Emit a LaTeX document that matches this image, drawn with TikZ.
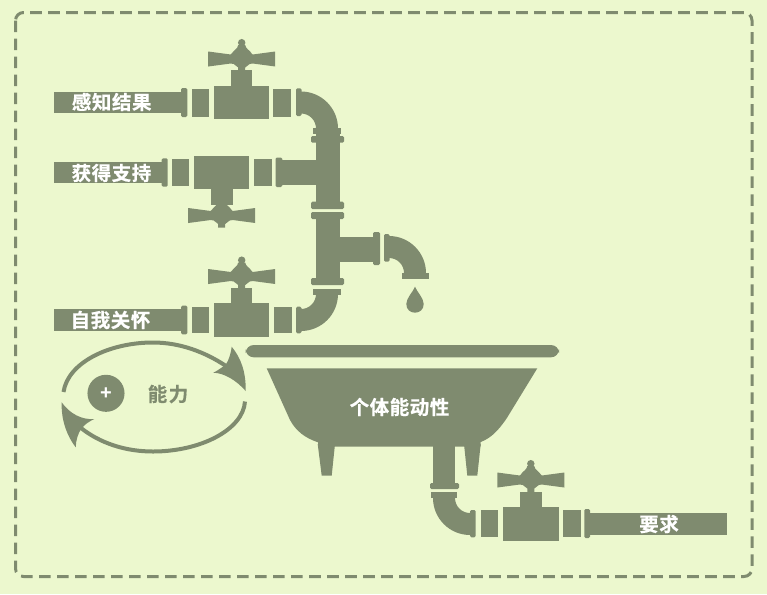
\documentclass[tikz,border=0pt]{standalone}
\usepackage{fontspec}
\newfontfamily\cjkb[LetterSpace=3,BoldFont={Noto Sans CJK SC Bold},BoldFeatures={FakeBold=0.6}]{Noto Sans CJK SC}
\newfontfamily\cjkc[LetterSpace=8,BoldFont={Noto Sans CJK SC Bold},BoldFeatures={FakeBold=0.6}]{Noto Sans CJK SC}
\newfontfamily\plusf{Liberation Sans Bold}
\definecolor{bgc}{HTML}{ECF8CE}
\definecolor{pipec}{HTML}{7F8B6F}
\tikzset{
  pipe/.style={fill=pipec,draw=none},
  lab/.style={font=\cjkb\bfseries\fontsize{14.6pt}{16pt}\selectfont,text=white,inner sep=0pt},
  labdark/.style={inner sep=0pt,text=pipec,font=\cjkc\bfseries\fontsize{14.6pt}{16pt}\selectfont},
  cyc/.style={draw=pipec,line width=3pt},
  handle/.pic={
    \fill[pipe] (-33.5,-7.5) -- (-11,-4.5) -- (-10,-5.5) .. controls (-8,-9) and (-4,-10) .. (-3.5,-14) -- (3.5,-14)
      .. controls (4,-10) and (8,-9) .. (10,-5.5) -- (11,-4.5) -- (33.5,-7.5) -- (33.5,7.5) -- (11,4.5)
      -- (8,5) -- (3.5,8.5) -- (3.5,12) -- (-3.5,12) -- (-3.5,8.5) -- (-8,5)
      -- (-11,4.5) -- (-33.5,7.5) -- cycle;
    \fill[pipe] (0,-16.3) circle[radius=2.8pt];
  }
}
\begin{document}
\begin{tikzpicture}[x=0.75pt,y=-0.75pt]
\useasboundingbox (0,0) rectangle (767,594);
\fill[bgc] (0,0) rectangle (767,594);
\draw[pipec,line width=2.25pt,dash pattern=on 8.8pt off 4.7pt,rounded corners=6pt] (15.5,12.5) rectangle (752,576.5);

% top line
\fill[pipe] (54,91.7) rectangle (182,113);
\fill[pipe,rounded corners=1pt] (181,88) rectangle (187.3,117);
\fill[pipe] (192.3,89.3) rectangle (209,116.7);
\fill[pipe] (214,85.7) rectangle (269.3,119.3);
\fill[pipe] (230.7,70) rectangle (252.3,86);
\pic at (241.7,59) {handle};
\fill[pipe] (273.3,89.3) rectangle (290.7,116.7);
\fill[pipe,rounded corners=1pt] (296,88.3) rectangle (301.5,116);
\fill[pipe] (301,91.5) .. controls (321.4,91.5) and (338,108.1) .. (338,128.5) -- (316,128.5) .. controls (316,120.2) and (309.3,113.5) .. (301,113.5) -- cycle;
\fill[pipe] (313,128) rectangle (340.7,134);
\fill[pipe,rounded corners=1pt] (311,136) rectangle (344,142.7);
\fill[pipe] (316,134) rectangle (340,202);
\fill[pipe,rounded corners=1pt] (311,201.7) rectangle (344,209);

% second line
\fill[pipe] (54,162.3) rectangle (162,183.3);
\fill[pipe,rounded corners=1pt] (161.7,158.3) rectangle (167.7,186.7);
\fill[pipe] (172.3,159) rectangle (189.3,185.7);
\fill[pipe] (194.3,155.7) rectangle (249.3,189);
\fill[pipe] (210.7,189) rectangle (232.7,204.5);
\begin{scope}[shift={(221.7,215.5)},yscale=-1]
\pic at (0,0) {handle};
\end{scope}
\fill[pipe] (254.3,159) rectangle (271.7,185.7);
\fill[pipe,rounded corners=1pt] (275.5,157.5) rectangle (282.3,187);
\fill[pipe] (282,160) rectangle (317,185);

% lower vertical with branch
\fill[pipe,rounded corners=1pt] (311,212) rectangle (344,219);
\fill[pipe] (316,218) rectangle (340,279);
\fill[pipe,rounded corners=1pt] (311,278) rectangle (344,285);
\fill[pipe] (339,236.5) rectangle (374,261.5);
\fill[pipe,rounded corners=1pt] (373,232) rectangle (380,265);

% spout
\fill[pipe,rounded corners=1pt] (384,234) rectangle (389.5,261.7);
\fill[pipe] (389,236) .. controls (409.4,236) and (426,252.6) .. (426,273) -- (404,273) .. controls (404,264.7) and (397.3,258) .. (389,258) -- cycle;
\fill[pipe] (402.3,272.7) rectangle (429,279.3);
\fill[pipe] (415,286.7) .. controls (417,292) and (423.7,298) .. (423.7,304) .. controls (423.7,315.6) and (406.3,315.6) .. (406.3,304) .. controls (406.3,298) and (413,292) .. (415,286.7) -- cycle;

% third line
\fill[pipe] (54,309) rectangle (182,331);
\fill[pipe,rounded corners=1pt] (181,305.7) rectangle (187.3,334.3);
\fill[pipe] (192.3,306.7) rectangle (209,333.3);
\fill[pipe] (214,303.3) rectangle (269.3,336.7);
\fill[pipe] (230.7,288) rectangle (252.3,304);
\pic at (241.7,276.5) {handle};
\fill[pipe] (274.3,306.7) rectangle (291.7,333.3);
\fill[pipe,rounded corners=1pt] (296,306.7) rectangle (301.5,333.3);
\fill[pipe] (301,331) .. controls (321.4,331) and (338,314.4) .. (338,294) -- (316,294) .. controls (316,302.3) and (309.3,309) .. (301,309) -- cycle;
\fill[pipe] (313,289) rectangle (340.7,294.5);

% bath
\fill[pipe,rounded corners=6pt] (245.7,345) rectangle (559,357.3);
\fill[pipe] (266.7,368.3) -- (537.3,368.3) -- (506.7,418.3) .. controls (498,431) and (491,438) .. (480.7,442) -- (480.7,446.7) -- (318,446.7) -- (318,442.3) .. controls (305,438) and (296,431) .. (290,420) -- cycle;
\fill[pipe] (317.7,444) -- (335,444) -- (331.7,475.7) -- (321.7,475.7) -- cycle;
\fill[pipe] (464,444) -- (480.7,444) -- (477.3,475.7) -- (467.3,475.7) -- cycle;

% drain line
\fill[pipe] (433.3,446) rectangle (455,484);
\fill[pipe,rounded corners=1pt] (430,483) rectangle (459,489);
\fill[pipe] (430.7,492.3) rectangle (457.3,497.5);
\fill[pipe] (433,497) -- (433,498) .. controls (433,518.4) and (449.6,535) .. (470,535) -- (470,513) .. controls (461.7,513) and (455,506.3) .. (455,498) -- (455,497) -- cycle;
\fill[pipe,rounded corners=1pt] (470,510) rectangle (475.7,537.3);
\fill[pipe] (480.7,510) rectangle (498.3,537.3);
\fill[pipe] (502.7,506.7) rectangle (559,540.7);
\fill[pipe] (520,491.7) rectangle (541.7,507);
\pic at (530.8,480) {handle};
\fill[pipe] (563.3,510) rectangle (580.7,537.3);
\fill[pipe,rounded corners=1pt] (584.3,509) rectangle (590,538);
\fill[pipe] (589.5,512.7) rectangle (727,535);

% cycle
\draw[cyc] (63.5,392) .. controls (68,362) and (110,342.5) .. (153,342.5) .. controls (180,342.5) and (205,352) .. (226,366);
\fill[pipe] (245.7,391) .. controls (246,372) and (241,358) .. (231.7,346.7) .. controls (231,353) and (229,360) .. (225.5,365) .. controls (221,368) and (217,371) .. (213.3,372.7) .. controls (224,373) and (236,380) .. (245.7,391) -- cycle;
\draw[cyc] (245,401.5) .. controls (243,430) and (200,451.5) .. (153,451.5) .. controls (125,451.5) and (100,443) .. (81,428);
\fill[pipe] (61.7,402.3) .. controls (61,420) and (67,436) .. (75.7,447.3) .. controls (76,440) and (78,433) .. (81.7,428.3) .. controls (85,424) and (90,421) .. (94.3,419) .. controls (82,420) and (70,414) .. (61.7,402.3) -- cycle;
\fill[pipe] (106,393.3) circle[radius=13.9pt];
\node[inner sep=0pt,text=white,font=\plusf\fontsize{15pt}{16pt}\selectfont] (plus) at (106,393.3) {+};
\node[labdark] (cap) at (168,394) {能力};

% labels
\node[lab] (l1) at (111.7,102) {感知结果};
\node[lab] (l2) at (111.5,173) {获得支持};
\node[lab] (l3) at (110.5,320) {自我关怀};
\node[lab] (l4) at (399.5,407) {个体能动性};
\node[lab] (l5) at (659,524) {要求};
\end{tikzpicture}
\end{document}
